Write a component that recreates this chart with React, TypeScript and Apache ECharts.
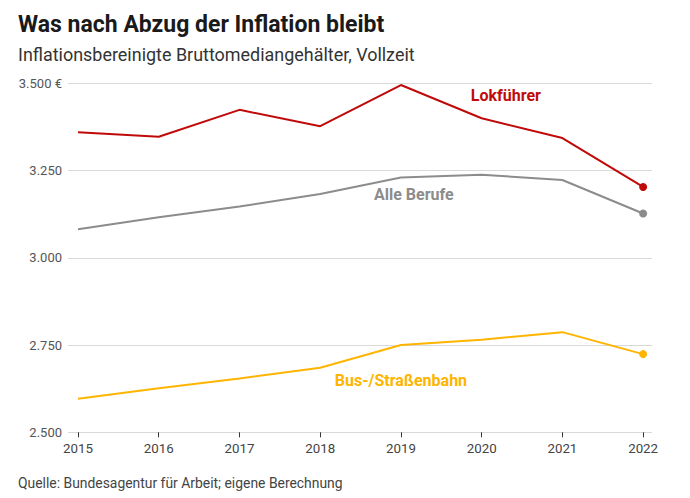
import React, { useEffect, useRef } from "react";
import * as echarts from "echarts";

const years = [2015, 2016, 2017, 2018, 2019, 2020, 2021, 2022];
const lokfuehrer = [3360, 3347, 3424, 3377, 3495, 3400, 3343, 3203];
const alleBerufe = [3082, 3116, 3147, 3183, 3230, 3238, 3223, 3127];
const busBahn = [2596, 2626, 2654, 2685, 2750, 2765, 2787, 2724];
const yTicks = [2500, 2750, 3000, 3250, 3500];

const seriesDefs = [
  { name: "Lokführer", data: lokfuehrer, color: "#c00a0a", label: [2020.3, 3464] },
  { name: "Alle Berufe", data: alleBerufe, color: "#8c8c8c", label: [2019.16, 3180] },
  { name: "Bus-/Straßenbahn", data: busBahn, color: "#ffb400", label: [2019.0, 2647] },
];

const FONT = "Roboto, 'Noto Sans', sans-serif";

export default function App() {
  const ref = useRef<HTMLDivElement>(null);
  useEffect(() => {
    if (!ref.current) return;
    const chart = echarts.init(ref.current, undefined, { renderer: "svg" });
    const fmt = (v: number) => {
      const s = String(v).replace(/\B(?=(\d{3})+(?!\d))/g, ".");
      return v === 3500 ? s + " €" : s;
    };
    chart.setOption({
      animation: false,
      backgroundColor: "#ffffff",
      textStyle: { fontFamily: FONT },
      title: [
        {
          text: "Was nach Abzug der Inflation bleibt",
          left: 18,
          top: 12.5,
          padding: 0,
          textStyle: { fontFamily: FONT, fontSize: 23, fontWeight: "bold", color: "#1a1a1a" },
        },
        {
          text: "Inflationsbereinigte Bruttomediangehälter, Vollzeit",
          left: 18,
          top: 45.5,
          padding: 0,
          textStyle: { fontFamily: FONT, fontSize: 17.95, fontWeight: "normal", color: "#333333" },
        },
        {
          text: "Quelle: Bundesagentur für Arbeit; eigene Berechnung",
          left: 18,
          top: 475.5,
          padding: 0,
          textStyle: { fontFamily: FONT, fontSize: 13.9, fontWeight: "normal", color: "#444444" },
        },
      ],
      grid: { left: 68, right: 38, top: 83.3, bottom: 65.7, containLabel: false },
      xAxis: {
        type: "value",
        min: 2014.876,
        max: 2022.11,
        axisLine: { show: false },
        splitLine: { show: false },
        axisTick: {
          show: true,
          customValues: years,
          length: 5,
          lineStyle: { color: "#333333", width: 1 },
        },
        axisLabel: {
          customValues: years,
          formatter: (v: number) => String(v),
          fontFamily: FONT,
          fontSize: 13.3,
          color: "#444444",
          margin: 10,
        },
      },
      yAxis: {
        type: "value",
        min: 2500,
        max: 3500,
        interval: 250,
        axisLine: { show: false },
        axisTick: { show: false },
        splitLine: { show: true, lineStyle: { color: "#d9d9d9", width: 1 } },
        axisLabel: {
          customValues: yTicks,
          formatter: fmt,
          fontFamily: FONT,
          fontSize: 13,
          color: "#555555",
          margin: 6,
        },
      },
      series: seriesDefs.map((s) => ({
        type: "line",
        name: s.name,
        data: s.data.map((v, i) =>
          i === s.data.length - 1
            ? { value: [years[i], v], symbol: "circle", symbolSize: 8 }
            : { value: [years[i], v], symbol: "none" }
        ),
        showSymbol: true,
        symbol: "none",
        lineStyle: { color: s.color, width: 2 },
        itemStyle: { color: s.color },
        markPoint: {
          symbol: "circle",
          symbolSize: 0,
          data: [
            {
              coord: s.label,
              label: {
                show: true,
                position: "inside",
                formatter: s.name,
                fontFamily: FONT,
                fontSize: 16,
                fontWeight: "bold",
                color: s.color,
              },
            },
          ],
        },
      })),
    });
    return () => chart.dispose();
  }, []);
  return (
    <div
      ref={ref}
      style={{ position: "fixed", left: 0, top: 0, width: 690, height: 498 }}
    />
  );
}
